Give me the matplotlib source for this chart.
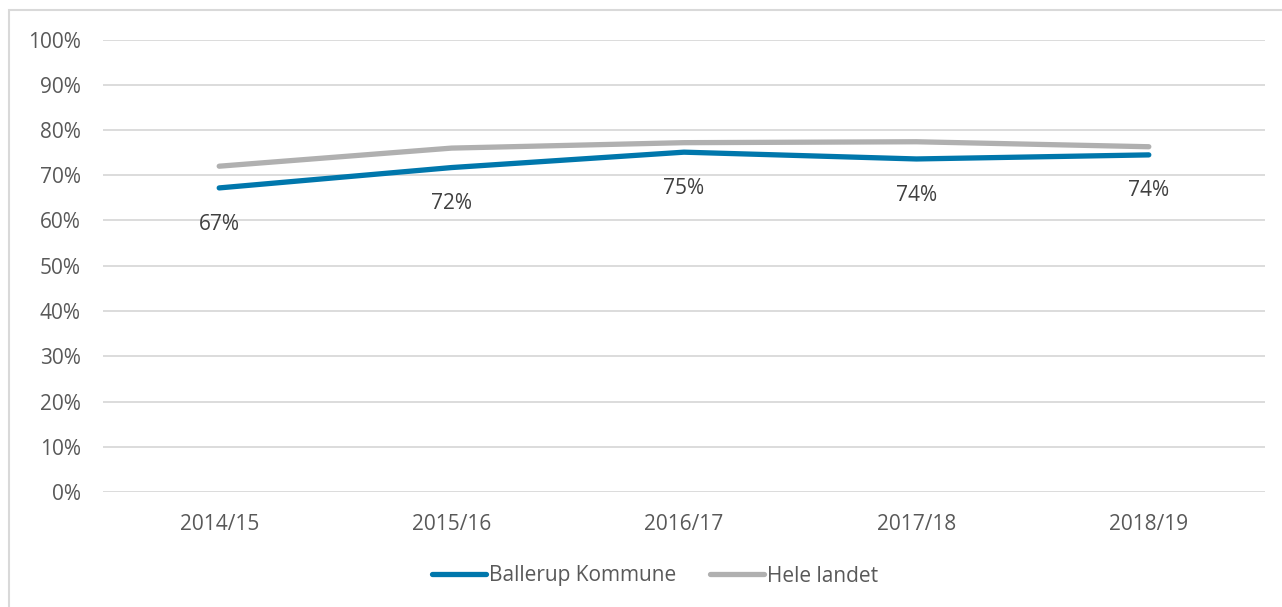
import matplotlib.pyplot as plt
from matplotlib.patches import Rectangle
from matplotlib.ticker import FuncFormatter, MultipleLocator

plt.rcParams['font.family'] = ['Open Sans', 'DejaVu Sans']

years = ["2014/15", "2015/16", "2016/17", "2017/18", "2018/19"]
ballerup = [0.672, 0.717, 0.751, 0.736, 0.745]
hele_landet = [0.720, 0.760, 0.772, 0.774, 0.763]
ballerup_labels = ["67%", "72%", "75%", "74%", "74%"]

BLUE = "#0077AC"
GREY = "#B0B0B0"
FS = 15


def main():
    fig = plt.figure(figsize=(12.82, 6.07), dpi=100)
    ax = fig.add_axes([103 / 1282, 1 - 492 / 607, 1162 / 1282, 452.5 / 607])

    # frame around the whole chart
    fig.patches.append(Rectangle((9 / 1282, -0.01), 1.0, 1 - 10 / 607 + 0.01,
                                 transform=fig.transFigure, fill=False,
                                 edgecolor="#D9D9D9", linewidth=1.5))

    x = range(len(years))
    ax.plot(x, ballerup, color=BLUE, linewidth=3.8, solid_capstyle="round",
            label="Ballerup Kommune", zorder=3)
    ax.plot(x, hele_landet, color=GREY, linewidth=3.8, solid_capstyle="round",
            label="Hele landet", zorder=2)

    for i, lab in enumerate(ballerup_labels):
        ax.annotate(lab, (i, ballerup[i]), xytext=(0, -26), textcoords="offset points",
                    ha="center", va="center", fontsize=FS, color="#404040")

    ax.set_xlim(-0.5, len(years) - 0.5)
    ax.set_ylim(0, 1)
    ax.yaxis.set_major_locator(MultipleLocator(0.1))
    ax.yaxis.set_major_formatter(FuncFormatter(lambda v, p: f"{v * 100:.0f}%"))
    ax.set_xticks(list(x))
    ax.set_xticklabels(years)
    ax.tick_params(axis="both", length=0, labelsize=FS, colors="#595959")
    ax.tick_params(axis="x", pad=16)
    ax.tick_params(axis="y", pad=16)
    ax.grid(axis="y", color="#D9D9D9", linewidth=1.3)
    ax.set_axisbelow(True)
    for s in ax.spines.values():
        s.set_visible(False)

    leg = fig.legend(loc="center", bbox_to_anchor=(0.511, 1 - 576 / 607), ncol=2,
                     frameon=False, fontsize=FS, handlelength=2.6,
                     handletextpad=0.15, columnspacing=1.6)
    for t in leg.get_texts():
        t.set_color("#595959")

    fig.savefig("out.png", dpi=100)


if __name__ == "__main__":
    main()
